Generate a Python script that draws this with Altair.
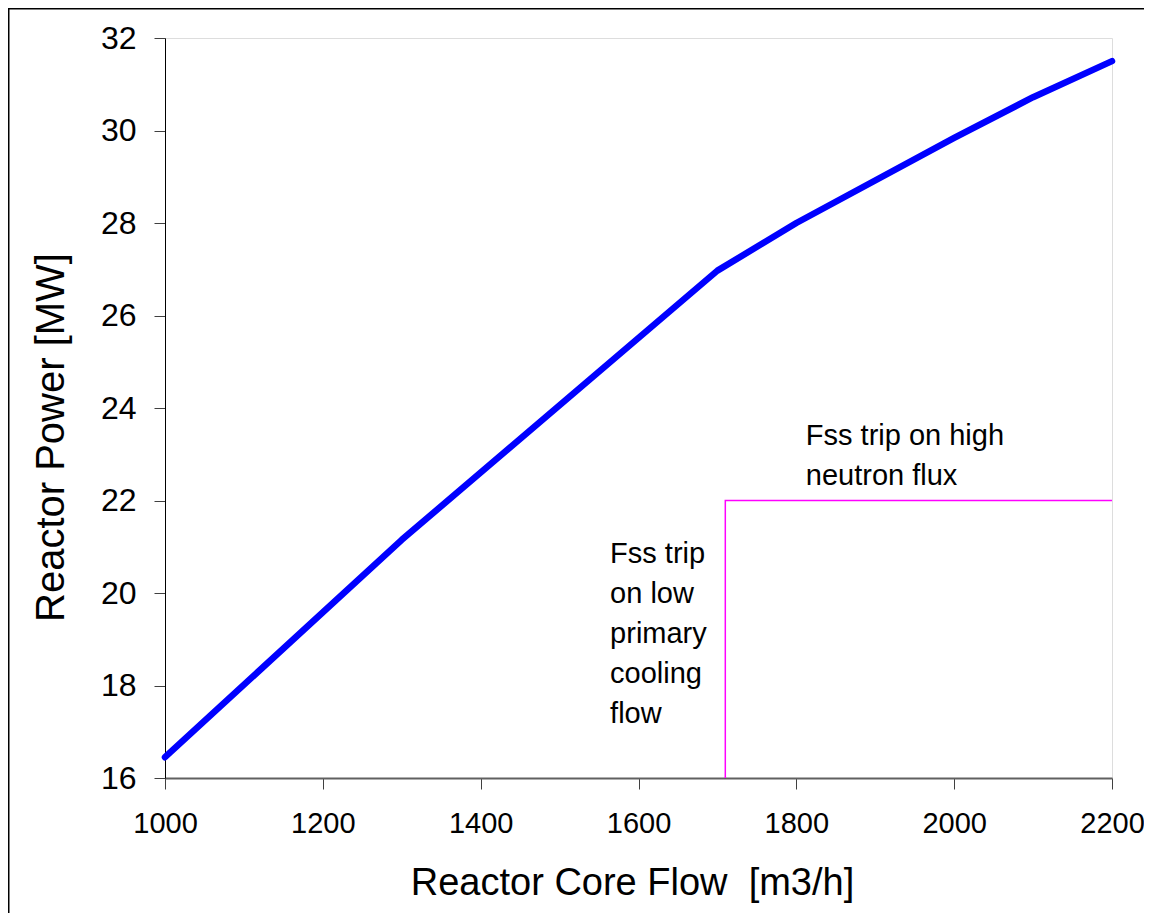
import altair as alt
import pandas as pd

# Main curve: reactor core flow [m3/h] vs reactor power [MW]
flow = [1000, 1300, 1700, 1800, 2000, 2100, 2200]
power = [16.45, 21.15, 26.97, 28.0, 29.84, 30.72, 31.5]

# Trip limit boundary (magenta)
trip_flow = [1710, 1710, 2200]
trip_power = [16, 22, 22]

# Annotations
ann_text = [["Fss trip on high", "neutron flux"],
            ["Fss trip", "on low", "primary", "cooling", "flow"]]
ann_x = [1812, 1564]
ann_y = [23.2, 20.65]

x_ticks = [1000, 1200, 1400, 1600, 1800, 2000, 2200]
y_ticks = [16, 18, 20, 22, 24, 26, 28, 30, 32]

FONT = "Liberation Sans"

df = pd.DataFrame({"flow": flow, "power": power})
trip = pd.DataFrame({"flow": trip_flow, "power": trip_power, "o": list(range(len(trip_flow)))})
ann = pd.DataFrame({"flow": ann_x, "power": ann_y, "text": ann_text})

xs = alt.Scale(domain=[1000, 2200], nice=False, zero=False)
ys = alt.Scale(domain=[16, 32], nice=False, zero=False)

x_axis = alt.Axis(values=x_ticks, grid=False, format="d", title="Reactor Core Flow\u00a0 [m3/h]",
                  labelFont=FONT, labelFontSize=29, labelColor="black", labelPadding=20,
                  labelFlush=False, labelOverlap=False,
                  tickSize=11, tickColor="#404040", domainColor="#606060", domainWidth=2,
                  titleFont=FONT, titleFontSize=38, titleFontWeight="normal", titleColor="black",
                  titleBaseline="alphabetic", titleY=116, titleX=467)
y_axis = alt.Axis(values=y_ticks, grid=False, format="d", title="Reactor Power [MW]",
                  labelFont=FONT, labelFontSize=32, labelColor="black", labelPadding=18,
                  labelFlush=False, labelOverlap=False,
                  tickSize=11, tickColor="#404040", domainColor="black", domainWidth=1,
                  titleFont=FONT, titleFontSize=40, titleFontWeight="normal", titleColor="black",
                  titleAngle=270, titleBaseline="alphabetic", titleX=-102, titleY=399)

line = alt.Chart(df).mark_line(color="#0000FF", strokeWidth=6.5, strokeCap="round", strokeJoin="round").encode(
    x=alt.X("flow:Q", scale=xs, axis=x_axis),
    y=alt.Y("power:Q", scale=ys, axis=y_axis),
)

trip_line = alt.Chart(trip).mark_line(color="#FF00FF", strokeWidth=1.5).encode(
    x=alt.X("flow:Q", scale=xs),
    y=alt.Y("power:Q", scale=ys),
    order="o:Q",
)

texts = alt.Chart(ann).mark_text(font=FONT, fontSize=29, align="left", baseline="alphabetic",
                                 lineHeight=40, color="black").encode(
    x=alt.X("flow:Q", scale=xs),
    y=alt.Y("power:Q", scale=ys),
    text="text",
)

frame_df = pd.DataFrame({"a": [0]})
frame_left = alt.Chart(frame_df).mark_rule(color="black", strokeWidth=2).encode(
    x=alt.value(-156.5), y=alt.value(-30), y2=alt.value(900))
frame_top = alt.Chart(frame_df).mark_rule(color="black", strokeWidth=2).encode(
    x=alt.value(-157), x2=alt.value(1000), y=alt.value(-29.5))

chart = alt.layer(line, trip_line, texts, frame_left, frame_top).properties(
    width=947, height=740,
    autosize=alt.AutoSizeParams(type="none"),
    padding={"left": 157, "top": 30, "right": 32, "bottom": 135},
).configure_view(stroke="#a0a0a0", strokeWidth=1.5).configure(background="white")

chart.save("out.html", embed_options={"renderer": "svg", "actions": False})
